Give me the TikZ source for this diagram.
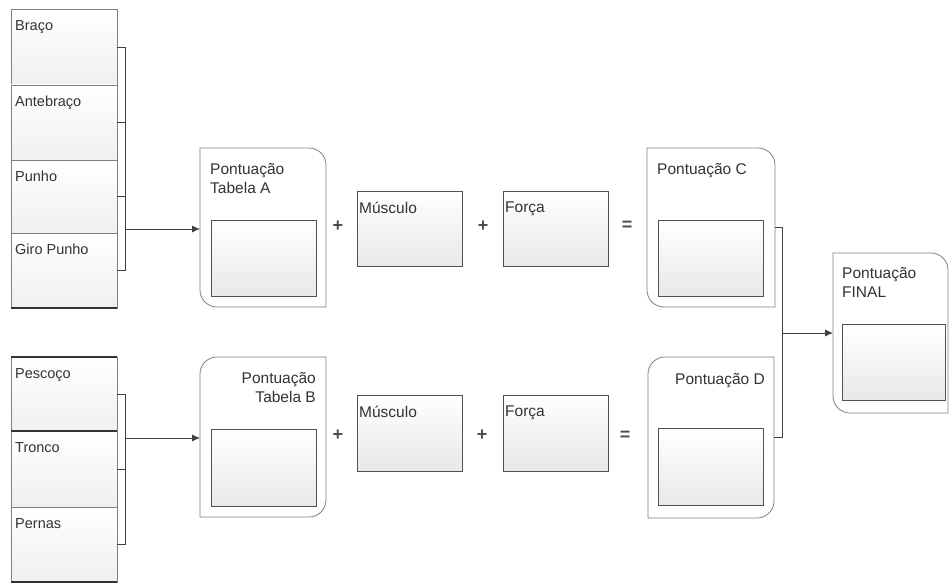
\documentclass[tikz,border=0pt]{standalone}
\usepackage{fontspec}
\setmainfont{Liberation Sans}
\usetikzlibrary{arrows.meta,calc}
\definecolor{txt}{HTML}{333333}
\tikzset{
  rowbox/.style={draw=black!50, line width=0.8pt, top color=white, bottom color=black!6,
    minimum width=106pt, inner sep=0pt, outer sep=0pt},
  outbox/.style={draw=none, minimum width=126pt, minimum height=159pt, inner sep=0pt, outer sep=0pt},
  innbox/.style={draw=black!68, line width=0.9pt, top color=white, bottom color=black!9,
    minimum width=105pt, minimum height=76pt, inner sep=0pt, outer sep=0pt},
  shapeline/.style={draw=black!50, line width=0.8pt, fill=white},
  lbl/.style={inner sep=0pt, text=txt, font=\fontsize{15.5}{19}\selectfont},
  slbl/.style={inner sep=0pt, text=txt, font=\fontsize{14.5}{17}\selectfont},
  conn/.style={draw=black!75, line width=0.8pt},
  heavy/.style={draw=black!80, line width=1.4pt},
  arr/.style={conn, -{Latex[length=8pt,width=7pt]}},
  opsign/.style={font=\fontsize{18}{18}\selectfont\bfseries, text=black!70, inner sep=0pt},
}
% outline with rounded top-right and bottom-left corners
\newcommand\shapeTRBL[1]{%
  \path[shapeline] let \p1=(#1.north west), \p2=(#1.south east) in
    (\x1,\y1) -- (\x2-17pt,\y1) .. controls (\x2-7.6pt,\y1) and (\x2,\y1-7.6pt) .. (\x2,\y1-17pt)
    -- (\x2,\y2) -- (\x1+17pt,\y2) .. controls (\x1+7.6pt,\y2) and (\x1,\y2+7.6pt) .. (\x1,\y2+17pt)
    -- cycle;}
% outline with rounded top-left and bottom-right corners
\newcommand\shapeTLBR[1]{%
  \path[shapeline] let \p1=(#1.north west), \p2=(#1.south east) in
    (\x1,\y1-17pt) .. controls (\x1,\y1-7.6pt) and (\x1+7.6pt,\y1) .. (\x1+17pt,\y1)
    -- (\x2,\y1) -- (\x2,\y2+17pt) .. controls (\x2,\y2+7.6pt) and (\x2-7.6pt,\y2) .. (\x2-17pt,\y2)
    -- (\x1,\y2) -- cycle;}
\begin{document}
\begin{tikzpicture}[x=1pt,y=-1pt]
\useasboundingbox[fill=white] (0,0) rectangle (949,583);

% ---------- left stacks ----------
\node[rowbox, minimum height=76pt, label={[slbl,anchor=north west,xshift=4pt,yshift=-11pt]north west:Braço}] (braco) at (64,47) {};
\node[rowbox, minimum height=75pt, label={[slbl,anchor=north west,xshift=4pt,yshift=-11pt]north west:Antebraço}] (antebraco) at (64,122.5) {};
\node[rowbox, minimum height=73pt, label={[slbl,anchor=north west,xshift=4pt,yshift=-11pt]north west:Punho}] (punho) at (64,196.5) {};
\node[rowbox, minimum height=75pt, label={[slbl,anchor=north west,xshift=4pt,yshift=-11pt]north west:Giro Punho}] (giro) at (64,270.5) {};

\node[rowbox, minimum height=74pt, label={[slbl,anchor=north west,xshift=4pt,yshift=-11pt]north west:Pescoço}] (pescoco) at (64,394) {};
\node[rowbox, minimum height=76pt, label={[slbl,anchor=north west,xshift=4pt,yshift=-11pt]north west:Tronco}] (tronco) at (64,469) {};
\node[rowbox, minimum height=75pt, label={[slbl,anchor=north west,xshift=4pt,yshift=-11pt]north west:Pernas}] (pernas) at (64,544.5) {};
\draw[heavy] (pescoco.north west) -- (pescoco.north east);
\draw[heavy] (tronco.north west) -- (tronco.north east);
\draw[heavy] (pernas.south west) -- (pernas.south east);
\draw[heavy] (giro.south west) -- (giro.south east);

% brackets
\draw[conn] (braco.east) -- ++(8,0) |- (giro.east);
\draw[conn] (antebraco.east) -- ++(8,0);
\draw[conn] (punho.east) -- ++(8,0);
\draw[conn] (pescoco.east) -- ++(8,0) |- (pernas.east);
\draw[conn] (tronco.east) -- ++(8,0);

% ---------- outer score boxes ----------
\node[outbox] (outA) at (263,227.5) {};
\node[outbox, minimum height=160pt] (outB) at (263,437) {};
\node[outbox, minimum width=128pt] (outC) at (711,227.5) {};
\node[outbox, minimum height=161pt] (outD) at (711,437.5) {};
\node[outbox, minimum width=115pt, minimum height=160pt] (outF) at (890.5,333) {};

\shapeTRBL{outA}
\shapeTLBR{outB}
\shapeTRBL{outC}
\shapeTLBR{outD}
\shapeTRBL{outF}

\node[innbox] (inA) at (263.5,258) {};
\node[innbox, minimum height=77pt] (inB) at (263.5,467.5) {};
\node[innbox] (inC) at (710.5,258) {};
\node[innbox, minimum height=77pt] (inD) at (710.5,466.5) {};
\node[innbox, minimum width=103pt] (inF) at (893.5,362) {};

\node[lbl, anchor=north west, align=left] (tA) at ($(outA.north west)+(10,15)$) {Pontuação\\Tabela A};
\node[lbl, anchor=north east, align=right] (tB) at ($(outB.north east)+(-10,15)$) {Pontuação\\Tabela B};
\node[lbl, anchor=north west] (tC) at ($(outC.north west)+(10,15)$) {Pontuação C};
\node[lbl, anchor=north east] (tD) at ($(outD.north east)+(-9,16)$) {Pontuação D};
\node[lbl, anchor=north west, align=left] (tF) at ($(outF.north west)+(9,14)$) {Pontuação\\FINAL};

% ---------- factor boxes ----------
\node[innbox, minimum height=75pt, label={[lbl,anchor=north west,xshift=2pt,yshift=-11pt]north west:Músculo}] (musA) at (409.5,228.5) {};
\node[innbox, minimum height=75pt, label={[lbl,anchor=north west,xshift=2pt,yshift=-11pt]north west:Força}] (forA) at (555.5,228.5) {};
\node[innbox, minimum height=76pt, label={[lbl,anchor=north west,xshift=2pt,yshift=-11pt]north west:Músculo}] (musB) at (409.5,433) {};
\node[innbox, minimum height=76pt, label={[lbl,anchor=north west,xshift=2pt,yshift=-11pt]north west:Força}] (forB) at (555.5,433) {};

% operators
\node[opsign] (p1) at (338,226) {+};
\node[opsign] (p2) at (483,226) {+};
\node[opsign] (e1) at (627,226) {=};
\node[opsign] (p3) at (338,435) {+};
\node[opsign] (p4) at (482,435) {+};
\node[opsign] (e2) at (625,436) {=};

% ---------- arrows ----------
\coordinate (ja) at (125,229);
\coordinate (jb) at (125,438);
\draw[arr] (ja) -- (ja -| outA.west);
\draw[arr] (jb) -- (jb -| outB.west);

\draw[conn] (outC.east) -- ++(7,0) |- (outD.east);
\coordinate (jc) at (782,333);
\draw[arr] (jc) -- (jc -| outF.west);
\end{tikzpicture}
\end{document}
